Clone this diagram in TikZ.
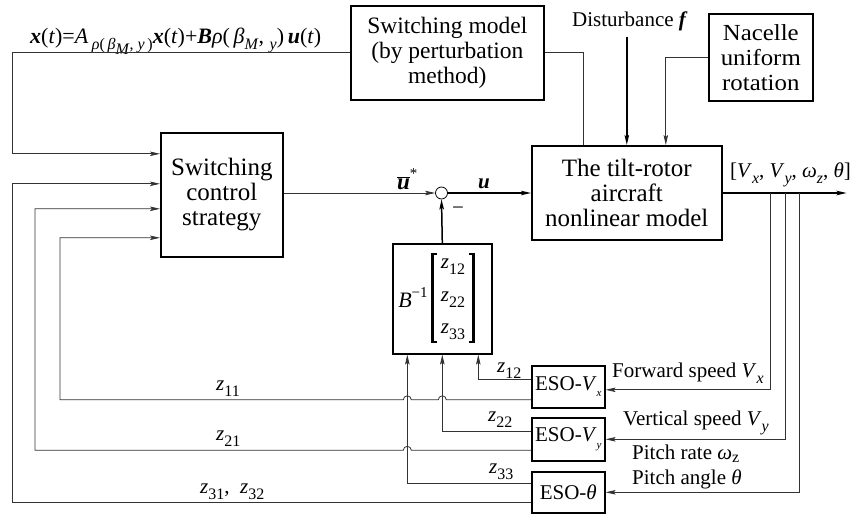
\documentclass[tikz,border=0pt]{standalone}
\usepackage{fontspec}
\setmainfont{Liberation Serif}
\newfontfamily\widefont[FakeStretch=1.08]{Liberation Serif}
\usetikzlibrary{arrows.meta,calc}

% lowered / raised small text for indices
\newcommand\lo[2][14]{\raisebox{-0.3em}{\fontsize{#1}{#1}\selectfont #2}}
\newcommand\hi[2][14]{\raisebox{0.45em}{\fontsize{#1}{#1}\selectfont #2}}
\newcommand\bi[1]{\textbf{\textit{#1}}}

\tikzset{
  box/.style={draw=black, line width=1.6pt, align=center, inner sep=0pt, anchor=north west},
  big/.style={font=\fontsize{25}{25}\selectfont},
  med/.style={font=\fontsize{23.5}{25}\selectfont},
  lbl/.style={font=\fontsize{21}{24}\selectfont, inner sep=0pt},
  wire/.style={draw=black!80, line width=0.8pt},
  heavy/.style={draw=black, line width=1.5pt},
  tip/.style={-{Stealth[length=10pt,width=4.5pt,inset=2pt]}},
  hop/.style={start angle=0, end angle=180, radius=4pt},
}

\begin{document}
\begin{tikzpicture}[x=1pt,y=1pt]
\useasboundingbox (0,0) rectangle (856,-514);

% ---- blocks ----
\node[box,med,minimum width=193pt,minimum height=94pt] (swm) at (350,-5)
  {Switching model\\(by perturbation\\method)};
\node[box,font=\fontsize{23}{25}\selectfont\widefont,minimum width=104pt,minimum height=87pt] (nac) at (708,-13)
  {Nacelle\\uniform\\rotation};
\node[box,big,minimum width=190pt,minimum height=94pt] (tilt) at (531,-145)
  {The tilt-rotor\\aircraft\\nonlinear model};
\node[box,big,minimum width=122pt,minimum height=124pt] (scs) at (160,-132)
  {Switching\\control\\strategy};
\node[box,minimum width=99pt,minimum height=110pt] (binv) at (392,-243) {};
\node[box,lbl,minimum width=73pt,minimum height=42pt] (esox) at (531,-365)
  {ESO-\textit{V}\lo[11]{\textit{x}}};
\node[box,lbl,minimum width=73pt,minimum height=43pt] (esoy) at (531,-417)
  {ESO-\textit{V}\lo[11]{\textit{y}}};
\node[box,lbl,minimum width=73pt,minimum height=41pt] (esot) at (531,-471)
  {ESO-\textit{θ}};
\node[circle,draw=black,line width=0.8pt,minimum size=12pt,inner sep=0pt] (sum) at (441.5,-193) {};

% ---- contents of the B^{-1} block ----
\node[lbl,font=\fontsize{22}{24}\selectfont] (binvB) at (413,-298) {\textit{B}\hi[15]{−1}};
\node[lbl] (m1) at (453,-267) {\textit{z}\lo[16]{12}};
\node[lbl] (m2) at (453,-300) {\textit{z}\lo[16]{22}};
\node[lbl] (m3) at (453,-332) {\textit{z}\lo[16]{33}};
\draw[line width=2.4pt] (437,-254) -- (432.5,-254) -- (432.5,-342) -- (437,-342);
\draw[line width=2.4pt] (469,-254) -- (473.5,-254) -- (473.5,-342) -- (469,-342);

% ---- texts ----
\node[lbl,font=\fontsize{22}{24}\selectfont,anchor=base west] (eq) at (30,-43)
  {\bi{x}(\textit{t})=\textit{A}\,\lo[16]{\textit{ρ}(\,\textit{β}\lo[16]{\textit{M}}, \textit{y}\,)}\bi{x}(\textit{t})+\bi{B}\textit{ρ}(\,\textit{β}\lo[16]{\textit{M}}, \lo[16]{\textit{y}})\,\bi{u}(\textit{t})};
\node[lbl,anchor=base west] (dist) at (572,-27) {Disturbance \bi{f}};
\node[lbl,anchor=base west] (yout) at (730,-177)
  {[\textit{V}\lo[16]{\textit{x}}, \textit{V}\lo[16]{\textit{y}}, \textit{ω}\lo[16]{\textit{z}}, \textit{θ}]};
\node[lbl,font=\fontsize{23}{24}\selectfont,anchor=base west] (ubar) at (397,-189) {$\overline{\hbox{\bi{u}}}$\hi[15]{*}};
\node[lbl,anchor=base] (ulbl) at (484,-188) {\bi{u}};
\node[lbl] (minus) at (458,-211) {−};
\node[lbl,anchor=base west] (lfw) at (612,-377) {Forward speed \textit{V}\lo[16]{\textit{x}}};
\node[lbl,anchor=base west] (lvs) at (623,-425) {Vertical speed \textit{V}\lo[16]{\textit{y}}};
\node[lbl,anchor=base west] (lpr) at (632,-459) {Pitch rate \textit{ω}\raisebox{-0.15em}{\fontsize{16}{16}\selectfont z}};
\node[lbl,anchor=base west] (lpa) at (632,-484) {Pitch angle \textit{θ}};
\node[lbl,anchor=base west] (l11) at (216,-390) {\textit{z}\lo[16]{11}};
\node[lbl,anchor=base west] (l21) at (216,-440) {\textit{z}\lo[16]{21}};
\node[lbl,anchor=base west] (l31) at (200,-493) {\textit{z}\lo[16]{31}, \ \textit{z}\lo[16]{32}};
\node[lbl,anchor=base west] (l12) at (497,-372) {\textit{z}\lo[16]{12}};
\node[lbl,anchor=base west] (l22) at (488,-421) {\textit{z}\lo[16]{22}};
\node[lbl,anchor=base west] (l33) at (489,-473) {\textit{z}\lo[16]{33}};

% ---- rails and crossing points ----
\coordinate (r1) at (12,0);
\coordinate (r2) at (35,0);
\coordinate (r3) at (60,0);
\coordinate (c1) at ($(binv.south)+(-35,0)$);
\coordinate (c2) at (binv.south);
\coordinate (c3) at ($(binv.south)+(36,0)$);

% ---- forward path ----
\draw[wire,tip] (swm.west) -- (swm.west -| r1) |- ($(scs.west)+(0,41)$);
\draw[wire] (swm.east) -| ($(tilt.north)+(-43,0)$);
\draw[heavy,tip] ($(dist.south -| tilt.north)+(0,-5)$) -- (tilt.north);
\draw[wire,tip] (nac.west) -| ($(tilt.north)+(39,0)$);
\draw[wire,tip] (scs.east |- sum) -- (sum.west);
\draw[heavy,tip] (sum.east) -- (sum.east -| tilt.west);
\draw[heavy,tip] (binv.north) -- (sum.south);
\draw[heavy,tip] (tilt.east |- sum) -- ++(124,0);

% ---- measured outputs into the observers ----
\draw[wire,tip] ($(tilt.east |- sum)+(48,0)$) |- ($(esox.east)+(0,-3)$);
\draw[wire,tip] ($(tilt.east |- sum)+(63,0)$) |- (esoy.east);
\draw[wire,tip] ($(tilt.east |- sum)+(77,0)$) |- (esot.east);

% ---- observer outputs ----
\draw[wire,tip] ($(esox.west)+(0,7)$) -| (c3);
\draw[wire,tip] ($(esox.west)+(0,-13)$) coordinate (p11)
  -- ($(p11 -| c2)+(4,0)$) arc[hop] -- ($(p11 -| c1)+(4,0)$) arc[hop]
  -- (p11 -| r3) |- ($(scs.west)+(0,-43)$);
\draw[wire,tip] ($(esoy.west)+(0,8)$) -| (c2);
\draw[wire,tip] ($(esoy.west)+(0,-11)$) coordinate (p21)
  -- ($(p21 -| c1)+(4,0)$) arc[hop]
  -- (p21 -| r2) |- ($(scs.west)+(0,-14)$);
\draw[wire,tip] ($(esot.west)+(0,8.5)$) -| (c1);
\draw[wire,tip] ($(esot.west)+(0,-10.5)$) coordinate (p31)
  -- (p31 -| r1) |- ($(scs.west)+(0,11)$);
\end{tikzpicture}
\end{document}
